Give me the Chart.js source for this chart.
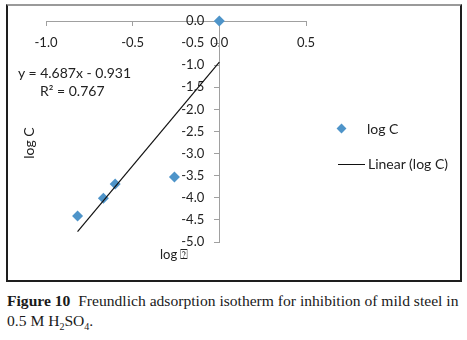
<!DOCTYPE html>
<html>
<head>
<meta charset="utf-8">
<script src="https://cdn.jsdelivr.net/npm/chart.js@4"></script>
<style>
  html, body { margin: 0; padding: 0; background: #fff; }
  body { width: 467px; height: 340px; position: relative; overflow: hidden; font-family: Lato, "Liberation Sans", sans-serif; color: #222; }
  #frame { position: absolute; left: 6px; top: 4px; width: 452px; height: 274px; border: 2px solid #1e1e1e; border-top-color: #9a9a9a; }
  #chart { position: absolute; left: 0; top: 0; }
  .t { position: absolute; white-space: nowrap; font-size: 14px; line-height: 1; }
  #ytitle { left: 29px; top: 143px; transform: translate(-50%, -50%) rotate(-90deg); }
  #xtitle { left: 160px; top: 248px; font-size: 13px; }
  #eq { left: 18px; top: 66px; }
  #r2 { left: 40px; top: 84px; }
  #lg1 { left: 367px; top: 122px; }
  #lg2 { left: 368px; top: 157px; }
  #dia { position: absolute; left: 338px; top: 125px; width: 7px; height: 7px; background: #4e94c9; transform: rotate(45deg); }
  #ln { position: absolute; left: 338px; top: 164px; width: 27px; height: 1px; background: #111; }
  #cap { position: absolute; left: 7px; top: 291px; font-family: "Liberation Serif", serif; font-size: 15.6px; line-height: 20px; color: #1a1a1a; }
  #cap sub { font-size: 10px; }
</style>
</head>
<body>
<div id="frame"></div>
<canvas id="chart" width="467" height="290"></canvas>
<div class="t" id="ytitle">log C</div>
<div class="t" id="xtitle">log &#x2370;</div>
<div class="t" id="eq">y = 4.687x - 0.931</div>
<div class="t" id="r2">R² = 0.767</div>
<div id="dia"></div>
<div class="t" id="lg1">log C</div>
<div id="ln"></div>
<div class="t" id="lg2">Linear (log C)</div>
<div id="cap"><b>Figure 10</b>&nbsp; Freundlich adsorption isotherm for inhibition of mild steel in<br>0.5 M H<sub>2</sub>SO<sub>4</sub>.</div>
<script>
// log(theta) vs log C
const logTheta = [0.0, -0.259, -0.601, -0.669, -0.818];
const logC = [0.0, -3.53, -3.69, -4.01, -4.41];

// trendline
const slope = 4.687;
const intercept = -0.931;

const xTicks = [-1.0, -0.5, 0.0, 0.5];
const yTicks = [0.0, -0.5, -1.0, -1.5, -2.0, -2.5, -3.0, -3.5, -4.0, -4.5, -5.0];

const points = logTheta.map((x, i) => ({x: x, y: logC[i]}));
const xLo = Math.min(...logTheta), xHi = Math.max(...logTheta);
const fit = [xLo, xHi].map(x => ({x: x, y: slope * x + intercept}));

const axisColor = '#a0a0a0';
const tickFont = {family: 'Lato', size: 13};

new Chart(document.getElementById('chart'), {
  type: 'scatter',
  data: {
    datasets: [
      {
        label: 'Linear (log C)',
        type: 'line',
        data: fit,
        borderColor: '#111',
        borderWidth: 1.2,
        pointRadius: 0,
        fill: false,
        order: 0,
        clip: false
      },
      {
        label: 'log C',
        data: points,
        pointStyle: 'rectRot',
        pointRadius: 5.5,
        backgroundColor: '#4e94c9',
        borderColor: '#4e94c9',
        borderWidth: 0,
        order: 1,
        clip: false
      }
    ]
  },
  options: {
    responsive: false,
    animation: false,
    layout: {padding: {left: 46, right: 161, top: 21, bottom: 48}},
    plugins: {legend: {display: false}, tooltip: {enabled: false}},
    scales: {
      x: {
        type: 'linear',
        position: {y: 0},
        min: -1.0,
        max: 0.5,
        afterBuildTicks: s => { s.ticks = xTicks.map(v => ({value: v})); },
        ticks: {callback: v => v.toFixed(1), color: '#222', font: tickFont, padding: 10, maxRotation: 0},
        grid: {drawOnChartArea: false, drawTicks: true, tickLength: 4, color: axisColor},
        border: {color: axisColor, width: 1}
      },
      y: {
        type: 'linear',
        position: {x: 0},
        min: -5.0,
        max: 0.0,
        afterBuildTicks: s => { s.ticks = yTicks.map(v => ({value: v})); },
        // centred y axis ignores padding, so pad the label itself
        ticks: {callback: v => v.toFixed(1) + '\u2007\u2007', color: '#222', font: tickFont},
        grid: {drawOnChartArea: false, drawTicks: true, tickLength: 5, color: axisColor},
        border: {color: axisColor, width: 1}
      }
    }
  }
});
</script>
</body>
</html>
